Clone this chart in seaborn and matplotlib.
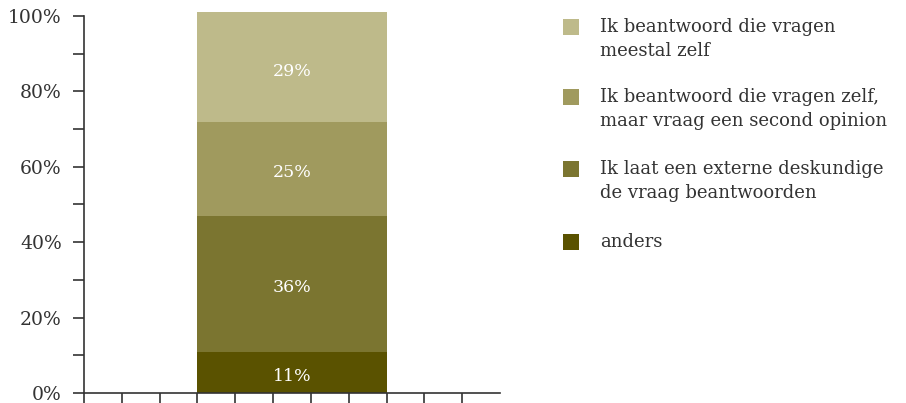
import matplotlib
matplotlib.use("Agg")
import matplotlib.pyplot as plt
from matplotlib.patches import Rectangle
import numpy as np
import pandas as pd
import seaborn as sns

sns.set_theme(style="white")
plt.rcParams["font.family"] = ["DejaVu Serif"]

# stacked from bottom to top
categories = [
    "anders",
    "Ik laat een externe deskundige\nde vraag beantwoorden",
    "Ik beantwoord die vragen zelf,\nmaar vraag een second opinion",
    "Ik beantwoord die vragen\nmeestal zelf",
]
values = [11, 36, 25, 29]
colors = ["#5A5200", "#7B7530", "#A09A5E", "#BEBA8A"]
ytick_labels = ["0%", "20%", "40%", "60%", "80%", "100%"]

W, H = 906, 403
TEXT = "#333333"

fig = plt.figure(figsize=(W / 100, H / 100), dpi=100)
ax = fig.add_axes([84 / W, 1 - 393 / H, (500 - 84) / W, (393 - 12.2) / H])

cum = np.cumsum(values)
df = pd.DataFrame({"group": ["q"] * len(values), "cum": cum, "val": values})

# seaborn stacked trick: draw cumulative totals from tallest to shortest
for i in reversed(range(len(values))):
    sns.barplot(data=df.iloc[[i]], x="group", y="cum", color=colors[i],
                width=1.0, saturation=1, linewidth=0, ax=ax)

bottoms = cum - np.array(values)
for v, b in zip(values, bottoms):
    ax.annotate(f"{v}%", (0, b + v / 2), xytext=(0, -3), textcoords="offset points",
                ha="center", va="center", color="white", fontsize=12.5)

ax.set_xlim(-1.1, 1.1)
ax.set_ylim(0, 101)
ax.set_xticks(np.arange(11) * 0.2 - 1.1)
ax.set_xticklabels([])
ax.set_yticks(np.arange(0, 101, 20))
ax.set_yticklabels(ytick_labels)
ax.set_yticks(np.arange(10, 100, 20), minor=True)
ax.set_xlabel("")
ax.set_ylabel("")

for side in ["top", "right"]:
    ax.spines[side].set_visible(False)
for side in ["left", "bottom"]:
    ax.spines[side].set_color(TEXT)
    ax.spines[side].set_linewidth(1.2)
ax.spines["left"].set_bounds(0, 100)

ax.tick_params(axis="both", which="both", direction="out", length=8,
               width=1.2, color=TEXT, labelcolor=TEXT, labelsize=13.5)
ax.tick_params(axis="y", which="both", pad=8, left=True)
ax.tick_params(axis="x", which="both", bottom=True)

# legend (top entry first), drawn by hand so the square sits on the first line
leg_baselines = [32, 102, 174, 247]
for k, i in enumerate(reversed(range(len(values)))):
    yb = leg_baselines[k]
    fig.add_artist(Rectangle((563 / W, 1 - (yb + 3) / H), 16 / W, 16 / H,
                             transform=fig.transFigure, color=colors[i], lw=0))
    for j, line in enumerate(categories[i].split("\n")):
        fig.text(600 / W, 1 - (yb + j * 24) / H, line, ha="left",
                 va="baseline", color=TEXT, fontsize=13)

fig.savefig("out.png", dpi=100)
